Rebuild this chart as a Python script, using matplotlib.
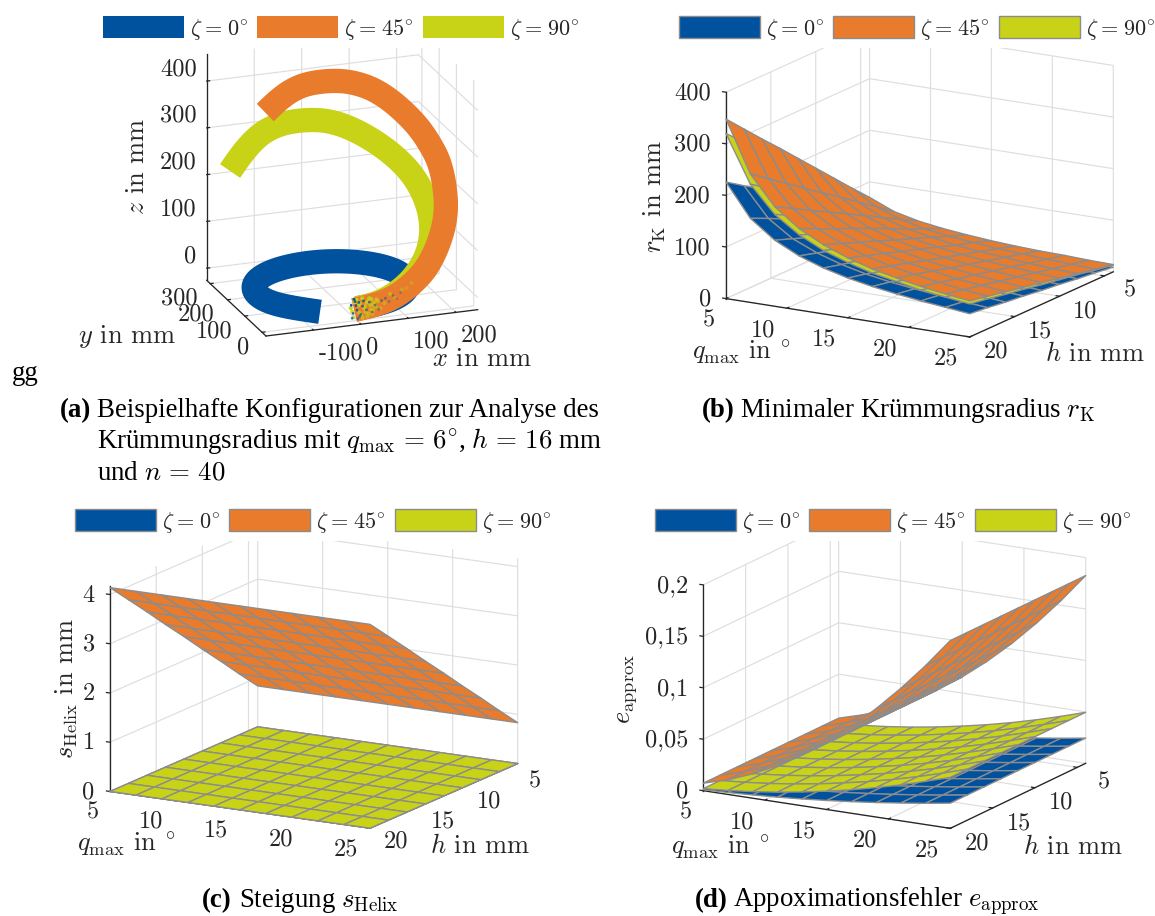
import matplotlib
matplotlib.use("Agg")
import numpy as np
import matplotlib.pyplot as plt
from matplotlib.patches import Patch
from mpl_toolkits.mplot3d import proj3d

W, H = 1155, 916
plt.rcParams.update({
    "font.family": ["cmr10", "DejaVu Sans"],
    "mathtext.fontset": "cm",
    "axes.formatter.use_mathtext": True,
    "grid.color": "#dedede", "grid.linewidth": 0.85,
    "axes.edgecolor": "#262626", "axes.linewidth": 0.95,
    "xtick.major.width": 0.9, "ytick.major.width": 0.9,
    "xtick.color": "#262626", "ytick.color": "#262626",
    "text.color": "#262626",
})
BLUE, ORANGE, YELLOW = "#00519e", "#e87b2c", "#c8d317"
EDGE = "#8c8c8c"
TICK_FS = 17.5
LEG_FS = 16
LABEL_FS = 19
ZETA = [r"$\zeta\hspace{0.07}=\hspace{0.07}0^{\circ}$", r"$\zeta\hspace{0.07}=\hspace{0.07}45^{\circ}$",
        r"$\zeta\hspace{0.07}=\hspace{0.07}90^{\circ}$"]

q_nodes = [5, 7, 9, 11, 13, 15, 17, 19, 21, 23, 25]
h_nodes = [4, 6, 8, 10, 12, 14, 16, 18, 20]

# --- panel a: helix centre lines (mm)
blue_x = [0, 39.6, 76.5, 108.2, 132.5, 147.8, 153, 147.8, 132.5, 108.2, 76.5, 39.6, 0, -41.6, -80.3,
          -113.6, -139.1, -155.2, -160.7, -155.2, -139.1, -113.6, -72]
blue_y = [0, 4.8, 18.9, 41.2, 70.4, 104.3, 140.8, 178.2, 211.1, 240.3, 262.7, 276.7, 281.5, 276.7, 262.7,
          240.3, 211.1, 178.2, 140.8, 104.3, 70.4, 41.2, 16]
blue_z = [0] * 22 + [-4]
yellow_x = [0, 26.5, 53.7, 82.6, 110.3, 134.2, 154.7, 171.1, 183.5, 192.0, 195.9, 194.3, 187.4, 175.4, 157.9,
            133.4, 105.4, 76.3, 47.7, 23.0, -1.3, -28.6, -55.7, -80.2, -103.1, -127.2, -145.3]
yellow_y = [0, 4.5, 10, 19.1, 30, 42.2, 55, 67.2, 80, 94.4, 110, 127.2, 145, 162.2, 180,
            200, 220, 238.1, 255, 270.6, 285, 298.4, 310, 318.4, 325, 330.9, 335]
yellow_z = [0, 0.5, 3.3, 10.6, 21.1, 34.0, 49.4, 67.0, 86.6, 108.0, 131.3, 157.3, 183.8, 208.4, 231.8,
            254.9, 275.5, 292.0, 303.1, 306.1, 304, 300.0, 291.6, 277.5, 257.2, 224.3, 195.6]
orange_x = [-6, 29, 64.3, 97.3, 127.9, 155.2, 179.4, 201.8, 218.5, 224.6, 226.0, 224.3, 216.2, 205, 195.2,
            180.5, 153.6, 122.8, 94.2, 66.5, 41.4, 15.6, -14.9, -45.9, -74.7, -100.4]
orange_y = [0, 5, 10, 19.1, 30, 41.9, 55, 70.6, 85, 100, 115, 130, 138.1, 145, 154.4,
            165, 177.5, 190, 200.6, 210, 217.8, 225, 232.5, 240, 248, 255]
orange_z = [-3, -1, 2, 11.9, 25.9, 42.1, 63.9, 99.0, 133.4, 166.3, 197.4, 230.2, 254.9, 276.8, 297.1,
            318.8, 349.1, 377.2, 393.1, 402.2, 406.2, 405.6, 402.9, 393.4, 370, 342.7]
speck_blue_x = [-12, -8, -4, 0, 4, 8, 12, -10, -2, 6, 14, 20, 26, 32, -6, 2, 38, 46, 52, 60, 68, 76, 84, 92]
speck_blue_z = [8, -10, 15, -4, 12, -14, 3, -20, 6, -18, 14, -6, 10, -12, 20, -22, 2, -8, 10, 14, 6, 18, 10, 22]
speck_yellow_x = [-10, -5, 3, 9, 15, 20, 24, 28, 30, 34, 36, 40, 22, 26, 32, 44, 50, 58, 70, 80, 95, 105, 115,
                  -13, -7, -1, 5, 11, 17, 23, 29, 35, 41, 12, 18, 6]
speck_yellow_z = [-6, 14, 6, -16, -2, 10, -14, 4, 16, -8, 8, -2, -20, 18, -16, 10, -6, 4, 22, 12, 28, 30, 40,
                  2, -18, 18, -10, 20, 2, 12, -6, 2, 14, -22, -10, 10]

# --- panel b: minimal curvature radius, rows follow h_nodes, columns q_nodes
rk_blue = [
    [45, 33, 26, 21, 18, 15, 14, 12, 11, 10, 9],
    [68, 49, 38, 32, 27, 23, 20, 18, 17, 15, 14],
    [90, 65, 51, 42, 36, 31, 27, 24, 22, 20, 18],
    [113, 82, 64, 53, 45, 39, 34, 31, 28, 25, 23],
    [136, 98, 77, 63, 53, 46, 41, 37, 33, 30, 27],
    [158, 114, 90, 74, 62, 54, 48, 43, 39, 35, 32],
    [181, 130, 102, 84, 71, 62, 54, 49, 44, 40, 36],
    [203, 147, 115, 95, 80, 69, 61, 55, 50, 45, 41],
    [226, 163, 128, 105, 89, 77, 68, 61, 55, 50, 45]]
rk_orange = [
    [70, 50, 39, 32, 27, 23, 20, 18, 17, 15, 14],
    [104, 75, 58, 47, 40, 35, 31, 28, 25, 23, 21],
    [139, 100, 77, 63, 54, 46, 41, 37, 33, 30, 28],
    [174, 125, 97, 79, 67, 58, 51, 46, 42, 38, 35],
    [209, 149, 116, 95, 80, 70, 61, 55, 50, 46, 42],
    [244, 174, 135, 111, 94, 81, 71, 64, 58, 53, 49],
    [278, 199, 154, 126, 107, 93, 82, 74, 66, 61, 56],
    [313, 224, 174, 142, 121, 104, 92, 83, 75, 68, 63],
    [348, 249, 193, 158, 134, 116, 102, 92, 83, 76, 70]]
rk_yellow = [
    [64, 46, 36, 29, 25, 21, 19, 17, 15, 14, 13],
    [96, 69, 53, 44, 37, 32, 28, 25, 23, 21, 19],
    [128, 92, 71, 58, 49, 43, 38, 34, 30, 28, 26],
    [160, 114, 89, 73, 62, 53, 47, 42, 38, 35, 32],
    [192, 137, 107, 88, 74, 64, 56, 51, 46, 42, 38],
    [224, 160, 125, 102, 86, 75, 66, 59, 53, 49, 45],
    [256, 183, 142, 117, 98, 86, 75, 68, 61, 56, 51],
    [288, 206, 160, 131, 111, 96, 85, 76, 68, 63, 58],
    [320, 229, 178, 146, 123, 107, 94, 85, 76, 70, 64]]

# --- panel c: pitch depends on h only
s_orange_by_h = [0.83, 1.24, 1.66, 2.07, 2.49, 2.90, 3.32, 3.73, 4.14]
s_zero_by_h = [0.0] * 9

# --- panel d: approximation error depends on q only
e_blue_by_q = [0.001, 0.0019, 0.0032, 0.0047, 0.0066, 0.0088, 0.0113, 0.0141, 0.0173, 0.0207, 0.0245]
e_yellow_by_q = [0.002, 0.0039, 0.0064, 0.0096, 0.0134, 0.0179, 0.0229, 0.0286, 0.035, 0.042, 0.0496]
e_orange_by_q = [0.0073, 0.0143, 0.0237, 0.0353, 0.0494, 0.0657, 0.0844, 0.1054, 0.1288, 0.1545, 0.1825]

q_ticks = [5, 10, 15, 20, 25]
h_ticks = [5, 10, 15, 20]
e_ticks = [0, 0.05, 0.1, 0.15, 0.2]
e_labels = ["0", "0,05", "0,1", "0,15", "0,2"]

fig = plt.figure(figsize=(W / 100, H / 100), dpi=100, facecolor="white")


def T(x, y, s, **kw):
    kw.setdefault("fontsize", LABEL_FS)
    return fig.text(x / W, 1 - y / H, s, **kw)


def label(x, y, s, **kw):
    return T(x, y, s, ha="center", va="center", **kw)


def fit(ax, p1, t1, p2, t2):
    """Scale and move the square axes so two 3D points land on two pixels."""
    S, cx, cy = 500.0, W / 2, H / 2
    tgt1 = np.array([t1[0], H - t1[1]])
    tgt2 = np.array([t2[0], H - t2[1]])

    def where():
        ax.set_position([(cx - S / 2) / W, (cy - S / 2) / H, S / W, S / H])
        ax.apply_aspect()
        M = ax.get_proj()
        out = []
        for p in (p1, p2):
            a, b, _c = proj3d.proj_transform(p[0], p[1], p[2], M)
            out.append(ax.transData.transform((a, b)))
        return out

    for _ in range(3):
        pts = where()
        S *= np.hypot(*(tgt2 - tgt1)) / np.hypot(*(pts[1] - pts[0]))
        pts = where()
        shift = ((tgt1 + tgt2) - (pts[0] + pts[1])) / 2
        cx += shift[0]
        cy += shift[1]
    ax.set_position([(cx - S / 2) / W, (cy - S / 2) / H, S / W, S / H])


def legend(ax, x, y, edge):
    handles = [Patch(facecolor=c, edgecolor=edge, linewidth=1.0) for c in (BLUE, ORANGE, YELLOW)]
    em = LEG_FS * 100 / 72
    pad = 6
    return ax.legend(handles, ZETA, ncol=3, loc="upper left",
                     bbox_to_anchor=((x - pad) / W, 1 - (y - pad) / H), bbox_transform=fig.transFigure,
                     frameon=True, fancybox=False, facecolor="white", edgecolor="none", framealpha=1,
                     fontsize=LEG_FS, handlelength=81 / em, handleheight=(22 / em - 0.245) / 0.65,
                     handletextpad=6 / em, columnspacing=9 / em, borderpad=pad / em, borderaxespad=0,
                     labelspacing=0)


def make_axes(xl, yl, zl, az, el, aspect):
    ax = fig.add_subplot(projection="3d", computed_zorder=False)
    ax.set_proj_type("ortho")
    ax.view_init(elev=el, azim=az)
    ax.set_xlim(*xl, view_margin=0)
    ax.set_ylim(*yl, view_margin=0)
    ax.set_zlim(*zl, view_margin=0)
    ax.set_box_aspect(aspect)
    ax.patch.set_alpha(0)
    for a in (ax.xaxis, ax.yaxis, ax.zaxis):
        a.set_pane_color((1, 1, 1, 0))
        a.pane.set_edgecolor("none")
        a._axinfo["tick"]["inward_factor"] = 0.0
        a._axinfo["tick"]["outward_factor"] = 0.17
    return ax


def z_axis_at(ax, x, y):
    """Put the z axis line on the vertical edge through (x, y)."""
    z0, z1 = ax.get_zlim()

    def edges(minmax, maxmin, axis_position=None):
        return [np.array([x, y, z0], float)], [np.array([x, y, z1], float)], ["default"]

    ax.zaxis._get_all_axis_line_edge_points = edges


def style_ticks(ax, xt, yt, zt, zl=None, pads=(5.3, 9.5, -1.5), xha="right", yha="center",
                xva="center", yva="bottom", zva="center"):
    ax.set_xticks(xt, labels=[str(v) for v in xt])
    ax.set_yticks(yt, labels=[str(v) for v in yt])
    ax.set_zticks(zt, labels=zl if zl else [str(v) for v in zt])
    ax.tick_params(axis="x", labelsize=TICK_FS, pad=pads[0])
    ax.tick_params(axis="y", labelsize=TICK_FS, pad=pads[1])
    ax.tick_params(axis="z", labelsize=TICK_FS, pad=pads[2])
    for t in ax.xaxis.get_ticklabels():
        t.set_va(xva)
        t.set_ha(xha)
    for t in ax.yaxis.get_ticklabels():
        t.set_va(yva)
        t.set_ha(yha)
    for t in ax.zaxis.get_ticklabels():
        t.set_ha("right")
        t.set_va(zva)


def surf(ax, Z, color, zorder):
    Q, Hh = np.meshgrid(q_nodes, h_nodes)
    ax.plot_surface(Q, Hh, np.asarray(Z, float), color=color, edgecolor=EDGE, linewidth=1.0,
                    rstride=1, cstride=1, shade=False, zorder=zorder, antialiased=True)


def rounded(values):
    """Round off the corners of a polyline drawn through read waypoints."""
    p = np.asarray(values, float)
    p = np.r_[p[0], p, p[-1]]
    out = []
    for i in range(1, len(p) - 2):
        for t in (0, 0.25, 0.5, 0.75):
            out.append(0.5 * (2 * p[i] + (p[i + 1] - p[i - 1]) * t
                              + (2 * p[i - 1] - 5 * p[i] + 4 * p[i + 1] - p[i + 2]) * t ** 2
                              + (3 * p[i] - p[i - 1] - 3 * p[i + 1] + p[i + 2]) * t ** 3))
    out.append(p[-2])
    out = np.array(out)
    k = 4
    padded = np.r_[2 * out[0] - out[k:0:-1], out, 2 * out[-1] - out[-2:-k - 2:-1]]
    return np.convolve(padded, np.ones(2 * k + 1) / (2 * k + 1), mode="valid")


def tube(ax, xs, ys, zs, color, zorder):
    ax.plot(rounded(xs), rounded(ys), rounded(zs), color=color, lw=17.5,
            solid_capstyle="butt", solid_joinstyle="round", zorder=zorder)


# ---------- panel a
axa = make_axes((-200, 246), (-23, 320), (-26, 457), -110, 20, (446, 343, 476))
tube(axa, blue_x, blue_y, blue_z, BLUE, 3)
tube(axa, yellow_x, yellow_y, yellow_z, YELLOW, 4)
tube(axa, orange_x, orange_y, orange_z, ORANGE, 5)
axa.scatter(speck_yellow_x, [0] * len(speck_yellow_x), speck_yellow_z, color=YELLOW, s=9, linewidths=0, zorder=6)
axa.scatter(speck_blue_x, [0] * len(speck_blue_x), speck_blue_z, color=BLUE, s=4, linewidths=0, zorder=7)
style_ticks(axa, [-100, 0, 100, 200], [0, 100, 200, 300], [0, 100, 200, 300, 400],
            pads=(3, 0, -3), xha="left", yha="right", xva="center", yva="center", zva="bottom")
fit(axa, (-200, 320, -26), (206.7, 280.7), (246, -23, -26), (477.7, 309.3))
legend(axa, 103, 16, "none")
label(136.7, 166, r"$z$ in mm", rotation=90)
label(126.7, 336.7, r"$y$ in mm")
label(481.7, 359, r"$x$ in mm")

# ---------- panel b
axb = make_axes((5, 25), (20, 4), (0, 400), -59.5, 15.5, (1, 1, 0.757))
surf(axb, rk_blue, BLUE, 3)
surf(axb, rk_yellow, YELLOW, 4)
surf(axb, rk_orange, ORANGE, 5)
style_ticks(axb, q_ticks, h_ticks, [0, 100, 200, 300, 400])
z_axis_at(axb, 5, 20)
fit(axb, (5, 20, 0), (726, 298.7), (25, 4, 0), (1113.3, 271.7))
legend(axb, 679, 16, EDGE)
label(655, 196.7, r"$r_{\mathrm{K}}$ in mm", rotation=90)
label(741.7, 353, r"$q_{\max}$ in $^{\circ}$")
label(1095, 354, r"$h$ in mm")

# ---------- panel c
axc = make_axes((5, 25), (20, 4), (0, 4.17), -60.4, 14.4, (1, 1, 0.709))
surf(axc, np.tile(np.array(s_zero_by_h)[:, None], (1, 11)), BLUE, 3)
surf(axc, np.tile(np.array(s_orange_by_h)[:, None], (1, 11)), ORANGE, 4)
surf(axc, np.tile(np.array(s_zero_by_h)[:, None], (1, 11)), YELLOW, 5)
style_ticks(axc, q_ticks, h_ticks, [0, 1, 2, 3, 4])
z_axis_at(axc, 5, 20)
fit(axc, (5, 20, 0), (110, 791), (25, 4, 0), (517.7, 764))
legend(axc, 75, 509, EDGE)
label(66.7, 688, r"$s_{\mathrm{Helix}}$ in mm", rotation=90)
label(126.7, 845, r"$q_{\max}$ in $^{\circ}$")
label(480, 846, r"$h$ in mm")

# ---------- panel d
axd = make_axes((5, 25), (20, 4), (0, 0.2), -60.6, 15.7, (1, 0.973, 0.754))
surf(axd, np.tile(e_blue_by_q, (9, 1)), BLUE, 3)
surf(axd, np.tile(e_yellow_by_q, (9, 1)), YELLOW, 4)
surf(axd, np.tile(e_orange_by_q, (9, 1)), ORANGE, 5)
style_ticks(axd, q_ticks, h_ticks, e_ticks, zl=e_labels)
z_axis_at(axd, 5, 20)
fit(axd, (5, 20, 0), (703.3, 790.7), (25, 4, 0), (1085.7, 763.3))
legend(axd, 655, 509, EDGE)
label(627, 689, r"$e_{\mathrm{approx}}$", rotation=90)
label(720, 848, r"$q_{\max}$ in $^{\circ}$")
label(1073, 846.7, r"$h$ in mm")

# ---------- captions
CAP = dict(family="Liberation Serif", color="black", fontsize=19.4, va="baseline")
EQ = r"\hspace{0.15}=\hspace{0.15}"
T(12, 380, "gg", **CAP)
T(60, 417, "(a)", weight="bold", **CAP)
T(97, 417, "Beispielhafte Konfigurationen zur Analyse des", **CAP)
T(97, 448, rf"Krümmungsradius mit $q_{{\max}}{EQ}6^{{\circ}}$, $h{EQ}16$ mm", **CAP)
T(97, 479, rf"und $n{EQ}40$", **CAP)
T(702, 417, "(b)", weight="bold", **CAP)
T(740, 417, r"Minimaler Krümmungsradius $r_{\mathrm{K}}$", **CAP)
T(202, 907, "(c)", weight="bold", **CAP)
T(239, 907, r"Steigung $s_{\mathrm{Helix}}$", **CAP)
T(695, 907, "(d)", weight="bold", **CAP)
T(733, 907, r"Appoximationsfehler $e_{\mathrm{approx}}$", **CAP)

fig.savefig("out.png", dpi=100, facecolor="white")
